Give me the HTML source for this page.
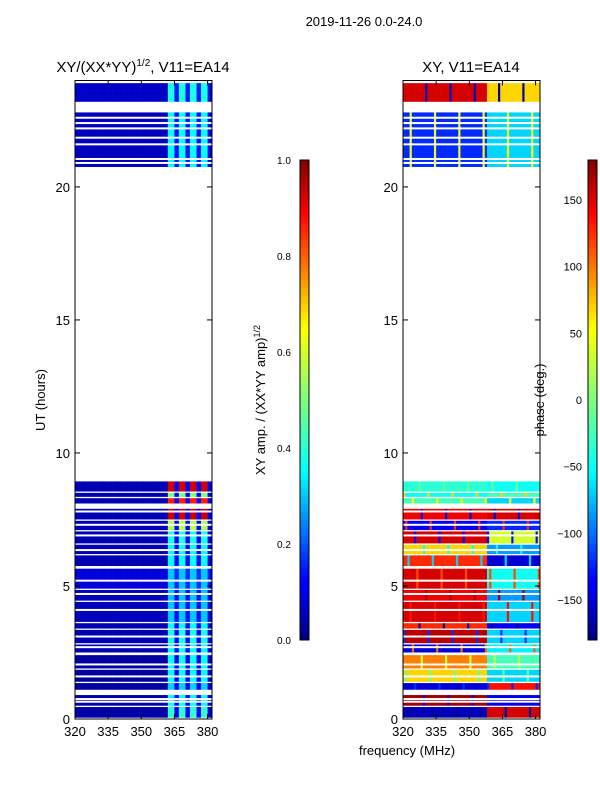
<!DOCTYPE html>
<html><head><meta charset="utf-8"><style>
body{margin:0;background:#fff;}
svg{display:block;font-family:"Liberation Sans",sans-serif;}
</style></head><body>
<svg id="fig" width="600" height="800" xmlns="http://www.w3.org/2000/svg">
<defs>
<linearGradient id="jet" x1="0" y1="1" x2="0" y2="0">
<stop offset="0" stop-color="#00007f"/><stop offset="0.11" stop-color="#0000ff"/><stop offset="0.125" stop-color="#0000ff"/>
<stop offset="0.35" stop-color="#00ffff"/><stop offset="0.5" stop-color="#7fff7f"/><stop offset="0.65" stop-color="#ffff00"/>
<stop offset="0.89" stop-color="#ff0000"/><stop offset="1" stop-color="#7f0000"/>
</linearGradient>
</defs>
<text x="364" y="26" font-size="13" text-anchor="middle">2019-11-26 0.0-24.0</text>
<text x="143" y="72" font-size="15" text-anchor="middle">XY/(XX*YY)<tspan dy="-6" font-size="10">1/2</tspan><tspan dy="6">, V11=EA14</tspan></text>
<text x="471" y="72" font-size="15" text-anchor="middle">XY, V11=EA14</text>
<g id="left"></g>
<g id="right"></g>
<g id="axes"></g>
<text transform="translate(45,400) rotate(-90)" font-size="13" text-anchor="middle">UT (hours)</text>
<text x="407" y="755" font-size="13" text-anchor="middle">frequency (MHz)</text>
<rect x="300" y="160" width="9" height="480" fill="url(#jet)" stroke="#000" stroke-width="1"/>
<rect x="588" y="160" width="9" height="480" fill="url(#jet)" stroke="#000" stroke-width="1"/>
<text transform="translate(265,400) rotate(-90)" font-size="13" text-anchor="middle">XY amp. / (XX*YY amp)<tspan dy="-5" font-size="9">1/2</tspan></text>
<text transform="translate(544,400) rotate(-90)" font-size="13" text-anchor="middle">phase (deg.)</text>
</svg>
<script>
const freqMin = 320, freqMax = 382;
const tMin = 0, tMax = 24;
const xTicks = [320, 335, 350, 365, 380];
const yTicks = [0, 5, 10, 15, 20];
const ampTicks = [0.0, 0.2, 0.4, 0.6, 0.8, 1.0];
const phaseTicks = [-150, -100, -50, 0, 50, 100, 150];
// time rows: [start hour, end hour]
const rowStart = [23.2,20.75,8.55,8.35,8.1,7.5,7.1,6.6,6.2,5.75,4.9,4.45,3.65,3.4,2.85,2.5,1.9,1.4,1.1,0.5,0.05];
const rowEnd   = [23.9,22.8,8.93,8.5,8.3,7.9,7.45,7.05,6.55,6.15,5.65,4.85,4.4,3.6,3.35,2.8,2.4,1.85,1.35,0.9,0.45];
// amplitude: background and stripe values
const ampBase   = [0.07,0.06,0.05,0.05,0.05,0.05,0.05,0.05,0.05,0.05,0.09,0.06,0.06,0.05,0.05,0.05,0.03,0.03,0.03,0.04,0.04];
const ampStripe = [0.4,0.38,0.92,0.5,0.85,0.93,0.55,0.4,0.38,0.38,0.32,0.32,0.32,0.38,0.4,0.38,0.38,0.38,0.33,0.38,0.42];
// phase (deg): low-frequency, high-frequency, alternate values
const phaseLow  = [150,-120,-30,-40,-20,140,-140,150,60,120,150,140,150,120,160,-150,90,60,-150,170,-160];
const phaseHigh = [60,-60,-40,-20,-60,150,-120,30,-80,-150,-40,-80,-60,-140,-60,-50,-20,-60,130,-140,150];
const phaseAlt  = [-160,40,-10,60,40,-150,120,-130,-40,-60,110,170,130,-170,-120,100,20,-10,-120,-150,-170];
// white lines inside bands (hours)
const gapLines = [22.6,22.4,22.2,21.85,21.6,21.05,20.9,7.8,7.3,6.9,6.35,5.2,4.7,4.1,3.1,2.7,2.05,1.6,0.75,0.65];

const L = {x0:75,x1:212}, R = {x0:403,x1:540}, Y0 = 719, Y1 = 80.5;
const xs = (p,f)=>p.x0+(f-freqMin)/(freqMax-freqMin)*(p.x1-p.x0);
const ys = t=>Y0-(t-tMin)/(tMax-tMin)*(Y0-Y1);
function jet(v){v=Math.max(0,Math.min(1,v));
 const r=Math.max(0,Math.min(1,1.5-Math.abs(4*v-3))),g=Math.max(0,Math.min(1,1.5-Math.abs(4*v-2))),b=Math.max(0,Math.min(1,1.5-Math.abs(4*v-1)));
 return `rgb(${Math.round(r*255)},${Math.round(g*255)},${Math.round(b*255)})`;}
const NS='http://www.w3.org/2000/svg';
function mk(tag,attrs,parent){const e=document.createElementNS(NS,tag);for(const k in attrs)e.setAttribute(k,attrs[k]);parent.appendChild(e);return e;}
const gl=document.getElementById('left'), gr=document.getElementById('right'), ga=document.getElementById('axes');
for(let i=0;i<rowStart.length;i++){
 const yA=ys(rowEnd[i]), yB=ys(rowStart[i]);
 for(let f=freqMin;f<freqMax;f+=1){
  const inStripe = f>=362 && f<381 && ((f-362)%5)<3;
  const inBand = f>=362 && f<381;
  let a = inStripe?ampStripe[i]:(inBand?ampBase[i]+0.08:ampBase[i]);
  let r1=mk('rect',{x:xs(L,f),y:yA,width:xs(L,f+1)-xs(L,f)+0.3,height:yB-yA,fill:jet(a)},gl);
  
  
  let p = f<358?phaseLow[i]:phaseHigh[i];
  if(((f*7+i*5)%11)===0) p = phaseAlt[i];
  let r2=mk('rect',{x:xs(R,f),y:yA,width:xs(R,f+1)-xs(R,f)+0.3,height:yB-yA,fill:jet((p+180)/360)},gr);
  
  
 }
}
for(const g of gapLines){for(const p of [L,R]){
 const l=mk('rect',{x:p.x0,y:ys(g)-1,width:p.x1-p.x0,height:2,fill:'#fff'},ga);
 
 
}}
for(const p of [L,R]){
 const fr=mk('rect',{x:p.x0,y:Y1,width:p.x1-p.x0,height:Y0-Y1,fill:'none',stroke:'#000','stroke-width':1},ga);
 
 
 for(const t of xTicks){const x=xs(p,t);
  mk('line',{x1:x,x2:x,y1:Y0,y2:Y0-5,stroke:'#000'},ga);mk('line',{x1:x,x2:x,y1:Y1,y2:Y1+5,stroke:'#000'},ga);
  const tx=mk('text',{x:x,y:Y0+17,'font-size':13,'text-anchor':'middle'},ga);tx.textContent=t;
  
  }
 for(const t of yTicks){const y=ys(t);
  mk('line',{x1:p.x0,x2:p.x0+5,y1:y,y2:y,stroke:'#000'},ga);mk('line',{x1:p.x1,x2:p.x1-5,y1:y,y2:y,stroke:'#000'},ga);
  const tx=mk('text',{x:p.x0-5,y:y+5,'font-size':13,'text-anchor':'end'},ga);tx.textContent=t;
  
  }
}
for(const v of ampTicks){const y=640-v*480;
 mk('line',{x1:309,x2:305,y1:y,y2:y,stroke:'#000'},ga);
 const tx=mk('text',{x:277,y:y+4,'font-size':10},ga);tx.textContent=v.toFixed(1);
 
 }
for(const v of phaseTicks){const y=640-(v+180)/360*480;
 mk('line',{x1:597,x2:593,y1:y,y2:y,stroke:'#000'},ga);
 const tx=mk('text',{x:582,y:y+4,'font-size':11,'text-anchor':'end'},ga);tx.textContent=v<0?'\u2212'+(-v):v;
 
 }
</script>
</body></html>
